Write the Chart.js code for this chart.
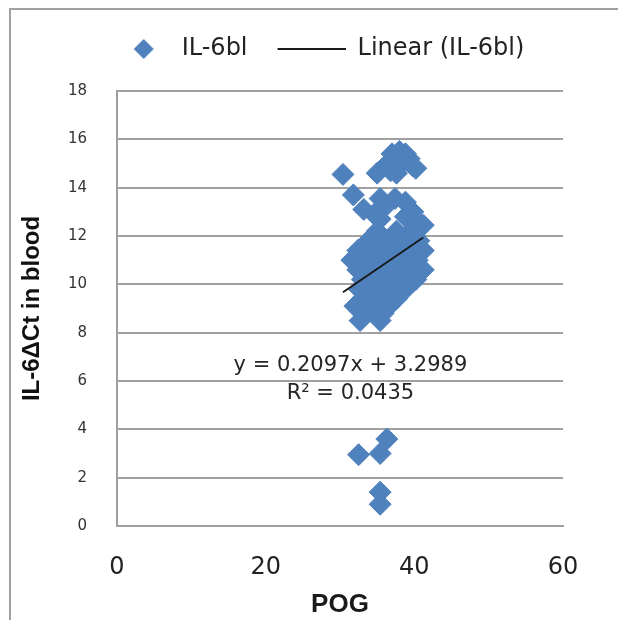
<!DOCTYPE html>
<html>
<head>
<meta charset="UTF-8">
<title>IL-6bl vs POG</title>
<style>
  html, body { margin: 0; padding: 0; background: #fff; overflow: hidden; width: 618px; height: 620px; }
  .frame { position: absolute; left: 9px; top: 8px; width: 640px; height: 640px;
           border-top: 2px solid #a0a0a0; border-left: 2px solid #a0a0a0; }
  .box { position: absolute; left: 0; top: 0; width: 618px; height: 620px; }
</style>
</head>
<body>
<div class="frame"></div>
<div class="box"><canvas id="grafico"></canvas></div>

<script src="https://cdn.jsdelivr.net/npm/chart.js"></script>
<script>
// POG (x) and IL-6 dCt (y)
const pog = [
  37.0, 38.0, 38.8, 39.3, 36.4, 38.3, 39.8, 40.2, 36.8, 35.0, 37.6, 30.4,
  31.8, 35.4, 37.4, 38.8, 36.0, 33.2, 34.6, 39.8, 35.4, 38.8, 41.2, 40.4,
  35.0, 37.6, 39.6,
  33.8, 36.2, 38.6, 40.6,
  32.4, 35.0, 37.2, 39.6, 41.2,
  31.6, 33.6, 36.0, 38.2, 40.4,
  32.4, 34.6, 37.0, 39.4, 41.2,
  33.0, 35.6, 38.0, 40.2,
  32.6, 34.4, 36.6, 38.8,
  33.4, 35.6, 37.6,
  32.0, 34.4, 36.6,
  33.6, 35.8, 32.7, 35.4,
  32.5, 35.4, 36.3, 35.4, 35.4
];
const il6 = [
  15.4, 15.5, 15.4, 15.2, 15.0, 15.0, 14.9, 14.8, 14.7, 14.6, 14.6, 14.55,
  13.7, 13.55, 13.55, 13.4, 13.2, 13.1, 12.9, 13.0, 12.7, 12.8, 12.45, 12.6,
  12.2, 12.2, 12.2,
  11.8, 11.8, 11.8, 11.8,
  11.4, 11.4, 11.4, 11.4, 11.4,
  11.0, 11.0, 11.0, 11.0, 11.0,
  10.6, 10.6, 10.6, 10.6, 10.6,
  10.2, 10.2, 10.2, 10.2,
  9.8, 9.8, 9.8, 9.8,
  9.4, 9.4, 9.4,
  9.1, 9.1, 9.1,
  8.8, 8.8, 8.5, 8.5,
  2.95, 3.0, 3.6, 1.4, 0.9
];

// trendline as reported on the chart
const slope = 0.2097;
const intercept = 3.2989;
const rSquared = 0.0435;

const yTicks = [0, 2, 4, 6, 8, 10, 12, 14, 16, 18];
const xTicks = [0, 20, 40, 60];

const azul = '#4f81bd';
const pontos = pog.map((x, i) => ({ x: x, y: il6[i] }));
const xMin = Math.min(...pog);
const xMax = Math.max(...pog);
const tendencia = [
  { x: xMin, y: slope * xMin + intercept },
  { x: xMax, y: slope * xMax + intercept }
];

// legend icons
function iconeLosango() {
  const c = document.createElement('canvas');
  c.width = 76; c.height = 24;
  const g = c.getContext('2d');
  g.fillStyle = azul;
  g.beginPath();
  g.moveTo(50, 2); g.lineTo(60, 12); g.lineTo(50, 22); g.lineTo(40, 12);
  g.closePath();
  g.fill();
  return c;
}
function iconeLinha() {
  const c = document.createElement('canvas');
  c.width = 76; c.height = 24;
  const g = c.getContext('2d');
  g.strokeStyle = '#1a1a1a';
  g.lineWidth = 2;
  g.beginPath();
  g.moveTo(8, 12); g.lineTo(76, 12);
  g.stroke();
  return c;
}
const icones = [iconeLosango(), iconeLinha()];

const fonte = 'DejaVu Sans, Verdana, sans-serif';

const legendaMaisAlta = {
  id: 'legendaMaisAlta',
  beforeInit(chart) {
    const leg = chart.legend;
    if (!leg) return;
    const fit = leg.fit;
    leg.fit = function () { fit.call(this); this.height += 20; };
  }
};

const equacao = {
  id: 'equacao',
  afterDatasetsDraw(chart) {
    const ctx = chart.ctx;
    const x = chart.scales.x.getPixelForValue(31.4);
    ctx.save();
    ctx.fillStyle = '#262626';
    ctx.font = '21px ' + fonte;
    ctx.textAlign = 'center';
    ctx.textBaseline = 'middle';
    ctx.fillText('y = ' + slope + 'x + ' + intercept, x, chart.scales.y.getPixelForValue(6.62));
    ctx.fillText('R\u00b2 = ' + rSquared, x, chart.scales.y.getPixelForValue(5.5));
    ctx.restore();
  }
};

new Chart(document.getElementById('grafico'), {
  type: 'scatter',
  data: {
    datasets: [
      {
        label: 'IL-6bl',
        data: pontos,
        backgroundColor: azul,
        borderColor: azul,
        borderWidth: 1,
        pointStyle: 'rectRot',
        pointRadius: 11,
        pointHoverRadius: 11,
        order: 1
      },
      {
        type: 'line',
        label: 'Linear (IL-6bl)',
        data: tendencia,
        borderColor: '#1a1a1a',
        borderWidth: 2,
        pointRadius: 0,
        fill: false,
        order: 0
      }
    ]
  },
  options: {
    responsive: true,
    maintainAspectRatio: false,
    animation: false,
    layout: { padding: { top: 15, left: 0, right: 0, bottom: 0 } },
    plugins: {
      legend: {
        display: true,
        position: 'top',
        labels: {
          usePointStyle: true,
          pointStyleWidth: 76,
          padding: 22,
          color: '#222',
          font: { family: fonte, size: 24 },
          generateLabels: () => [
            { text: 'IL-6bl', pointStyle: icones[0], datasetIndex: 0, hidden: false, lineWidth: 0, fontColor: '#222' },
            { text: 'Linear (IL-6bl)', pointStyle: icones[1], datasetIndex: 1, hidden: false, lineWidth: 0, fontColor: '#222' }
          ]
        }
      },
      tooltip: { enabled: false }
    },
    scales: {
      x: {
        type: 'linear',
        min: 0,
        max: 60,
        afterBuildTicks: s => { s.ticks = xTicks.map(v => ({ value: v })); },
        afterFit: s => { s.height = 94; },
        grid: { display: false },
        border: { display: true, color: '#a0a0a0', width: 2 },
        ticks: { color: '#222', padding: 19, font: { family: fonte, size: 24 } },
        title: {
          display: true,
          text: 'POG',
          color: '#1a1a1a',
          padding: { top: 0, bottom: 0 },
          font: { family: 'Liberation Sans, Arial, sans-serif', size: 26, weight: 'bold' }
        }
      },
      y: {
        type: 'linear',
        min: 0,
        max: 18,
        afterBuildTicks: s => { s.ticks = yTicks.map(v => ({ value: v })); },
        afterFit: s => { s.width = 117; },
        grid: { color: '#a0a0a0', lineWidth: 2, drawTicks: false },
        border: { display: true, color: '#a0a0a0', width: 2 },
        ticks: { color: '#333', padding: 30, font: { family: fonte, size: 15 } },
        title: {
          display: true,
          text: 'IL-6\u0394Ct in blood',
          color: '#111',
          padding: { top: 18, bottom: 0 },
          font: { family: 'Liberation Sans, Arial, sans-serif', size: 24, weight: 'bold' }
        }
      },
      y2: {
        type: 'linear',
        position: 'right',
        display: true,
        afterFit: s => { s.width = 55; },
        grid: { display: false, drawTicks: false },
        border: { display: false },
        ticks: { display: false }
      }
    }
  },
  plugins: [legendaMaisAlta, equacao]
});
</script>
</body>
</html>
